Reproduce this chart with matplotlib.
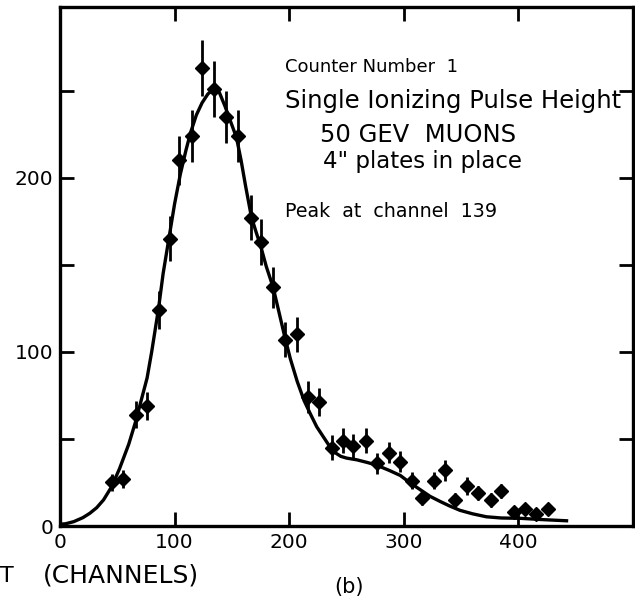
import matplotlib
matplotlib.use('Agg')
import matplotlib.pyplot as plt

# measured points (channel, counts, error)
channel = [45, 55, 66, 76, 86, 96, 104, 115, 124, 134, 145, 155, 167, 175, 186, 196, 207, 216, 226,
           237, 247, 256, 267, 277, 287, 297, 307, 316, 326, 336, 345, 355, 365, 376, 385, 396, 406, 415, 426]
counts = [25, 27, 64, 69, 124, 165, 210, 224, 263, 251, 235, 224, 177, 163, 137, 107, 110, 74, 71,
          45, 49, 46, 49, 36, 42, 37, 26, 16, 26, 32, 15, 23, 19, 15, 20, 8, 10, 7, 10]
errors = [5, 5, 8, 8, 11, 13, 14, 15, 16, 16, 15, 15, 13, 13, 12, 10, 10, 9, 8,
          7, 7, 7, 7, 6, 6, 6, 5, 4, 5, 6, 4, 5, 4, 4, 4, 3, 3, 3, 3]

# fitted curve
fit_x = [0, 5, 12, 20, 26, 32, 38, 45, 52, 60, 66, 70, 76, 80, 86, 90, 95, 100, 105, 110, 114, 119,
         124, 129, 134, 139, 144, 149, 154, 158, 162, 167, 171, 175, 180, 186, 191, 196, 201, 207, 213,
         218, 224, 230, 238, 245, 250, 259, 268, 276, 287, 297, 305, 314, 323, 332, 340, 349, 360, 372,
         385, 402, 420, 442]
fit_y = [1.0, 1.3, 2.5, 4.8, 7.3, 10.5, 15, 22.5, 33, 47, 60, 70, 85, 100, 125, 145, 165, 185, 202,
         216, 226, 236, 243, 248, 251, 249, 241, 232, 223, 210, 195, 177.5, 169, 161, 149, 137, 123,
         109, 96, 83, 72, 65, 57, 51, 43, 40, 39, 38, 36.5, 35, 32, 29, 25, 21, 17, 14, 11.5, 9, 7,
         5.3, 4.6, 4.4, 3.7, 3.0]

x_ticks = [0, 100, 200, 300, 400, 500]
x_labels = ['0', '100', '200', '300', '400', '']
y_ticks = [0, 50, 100, 150, 200, 250]
y_labels = ['0', '', '100', '', '200', '']

fig = plt.figure(figsize=(6.35, 6.02), dpi=100)
ax = fig.add_axes([60 / 635, 76 / 602, 573 / 635, 519 / 602])

ax.plot(fit_x, fit_y, color='black', lw=2.4, zorder=2)
ax.errorbar(channel, counts, yerr=errors, fmt='D', color='black', ms=7.5,
            elinewidth=2.0, capsize=0, zorder=3)

ax.set_xlim(0, 500)
ax.set_ylim(0, 298)
ax.set_xticks(x_ticks)
ax.set_xticklabels(x_labels)
ax.set_yticks(y_ticks)
ax.set_yticklabels(y_labels)
ax.tick_params(direction='in', length=10, width=2.0, labelsize=14.5,
               top=True, right=True, pad=5)
for s in ax.spines.values():
    s.set_linewidth(2.4)

ax.text(196, 260.5, 'Counter Number  1', fontsize=13)
ax.text(196, 239.8, 'Single Ionizing Pulse Height', fontsize=17.5)
ax.text(227, 220.3, '50 GEV  MUONS', fontsize=17.5)
ax.text(229.5, 205.4, '4" plates in place', fontsize=16.5)
ax.text(196, 177.4, 'Peak  at  channel  139', fontsize=13.7)

fig.text(0 / 635, 1 - 576 / 602, 'T', fontsize=16, va='center', ha='left')
fig.text(43 / 635, 1 - 576 / 602, '(CHANNELS)', fontsize=18, va='center', ha='left')
fig.text(349 / 635, 1 - 587 / 602, '(b)', fontsize=15, va='center', ha='center')

fig.savefig('out.png', dpi=100)
